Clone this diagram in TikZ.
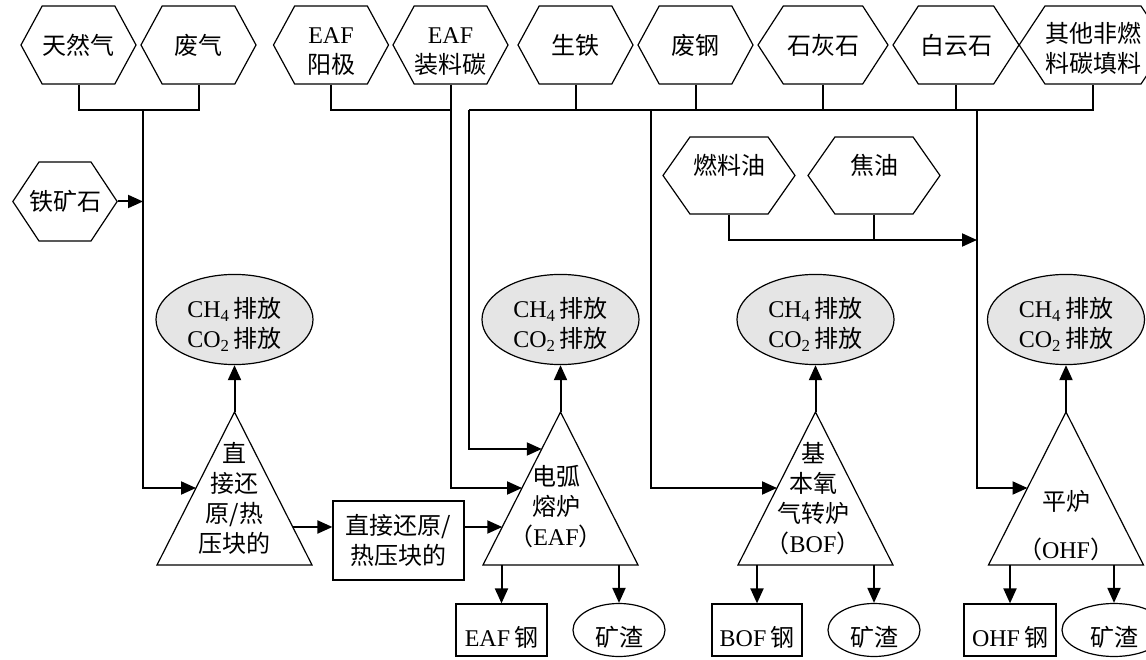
\documentclass[tikz,border=0pt]{standalone}
\usepackage{fontspec}
\setmainfont{Liberation Serif}
\newfontfamily\cjk{Noto Sans CJK SC}
\usetikzlibrary{shapes.symbols,shapes.geometric,arrows.meta,calc}
\newcommand\zh[1]{{\cjk #1}}
\newcommand\up[1]{\rule{0pt}{#1}}
\newcommand\dn[1]{\rule[-#1]{0pt}{1pt}}
\tikzset{
  every node/.style={font=\fontsize{24}{30}\selectfont},
  hexa/.style={signal, signal to=west and east, signal pointer angle=#1, draw, line width=1.2pt,
    minimum height=78pt, inner sep=0pt, align=center},
  conn/.style={line width=2pt},
  arr/.style={conn, -{Triangle[length=15pt,width=13pt]}},
  emis/.style={ellipse, draw, line width=1.2pt, fill=gray!20, minimum width=157pt, minimum height=77pt,
    inner sep=0pt, align=center},
  tri/.style={draw, line width=1.2pt},
  box/.style={rectangle, draw, line width=1.2pt, align=center, inner sep=0pt},
  slag/.style={ellipse, draw, line width=1.2pt, minimum width=92pt, minimum height=53pt, inner sep=0pt},
  lbl/.style={align=center, inner sep=0pt}
}
\begin{document}
\begin{tikzpicture}[x=1pt,y=-1pt]
\useasboundingbox (0,0) rectangle (1146,660);
\clip (0,0) rectangle (1146,660);
% ---------- input hexagons ----------
\node[hexa=123,minimum width=115pt] (gas)    at (78.5,45)  {\zh{天然气}};
\node[hexa=123,minimum width=115pt] (waste)  at (198.5,45) {\zh{废气}};
\node[hexa=123,minimum width=115pt] (anode)  at (331,45)   {\up{29pt}EAF\\\zh{阳极}};
\node[hexa=123,minimum width=115pt] (charge) at (450.5,45) {\up{29pt}EAF\\\zh{装料碳}};
\node[hexa=123,minimum width=115pt] (pig)    at (575.5,45) {\zh{生铁}};
\node[hexa=123,minimum width=115pt] (scrap)  at (695.5,45) {\zh{废钢}};
\node[hexa=114,minimum width=130pt] (lime)   at (823,45)   {\zh{石灰石}};
\node[hexa=114,minimum width=126pt] (dolo)   at (956,45)   {\zh{白云石}};
\node[hexa=113,minimum width=140pt] (other)  at (1093,45)  {\up{26pt}\zh{其他非燃}\\\zh{料碳填料}};
\node[hexa=110,minimum width=132pt,minimum height=77pt] (fuel) at (729,175.5) {\zh{燃料油}\dn{22pt}};
\node[hexa=110,minimum width=132pt,minimum height=77pt] (tar)  at (874,175.5) {\zh{焦油}\dn{22pt}};
\node[hexa=113,minimum width=104pt,minimum height=79pt,inner xsep=-10pt] (ore) at (65,201.5) {\zh{铁矿石}};
% ---------- triangles ----------
\foreach \n/\a in {dri/234.5, eaf/560.5, bof/815.5, ohf/1066}{
  \coordinate (\n-top) at (\a,412);
  \coordinate (\n-l) at (\a-77.5,565);
  \coordinate (\n-r) at (\a+77.5,565);
  \draw[tri] (\n-top) -- (\n-l) -- (\n-r) -- cycle;
}
\node[lbl] (dri) at (234.5,498) {\zh{直}\\\zh{接还}\\\zh{原/热}\\\zh{压块的}};
\node[lbl] (eaf) at (556,507) {\zh{电弧}\\\zh{熔炉}\\\zh{（}EAF\zh{）}};
\node[lbl] (bof) at (813,499) {\zh{基}\\\zh{本氧}\\\zh{气转炉}\\\zh{（}BOF\zh{）}};
\node[lbl] (ohf) at (1066,526) {\zh{平炉}\\[18pt]\zh{（}OHF\zh{）}};
% edge points
\coordinate (dri-in)  at ($(dri-l)!0.5033!(dri-top)$);
\coordinate (dri-out) at ($(dri-r)!0.2484!(dri-top)$);
\coordinate (eaf-in1) at ($(eaf-l)!0.7582!(eaf-top)$);
\coordinate (eaf-in2) at ($(eaf-l)!0.5033!(eaf-top)$);
\coordinate (eaf-in3) at ($(eaf-l)!0.2484!(eaf-top)$);
\coordinate (bof-in)  at ($(bof-l)!0.5033!(bof-top)$);
\coordinate (ohf-in)  at ($(ohf-l)!0.5033!(ohf-top)$);
% ---------- emissions ----------
\foreach \n/\a in {dri/234.5, eaf/560.5, bof/815.5, ohf/1066}{
  \node[emis] (\n-e) at (\a,319.5) {\up{30pt}CH\textsubscript{4}\,\zh{排放}\\CO\textsubscript{2}\,\zh{排放}};
}
% ---------- products ----------
\node[box,minimum width=131pt,minimum height=79pt] (dri-p) at (398.5,540.5) {\zh{直接还原/}\\\zh{热压块的}};
\node[box,minimum width=91pt,minimum height=52pt] (eaf-s) at (501.5,630) {\up{34pt}EAF\,\zh{钢}};
\node[slag] (eaf-g) at (619,630) {\up{34pt}\zh{矿渣}};
\node[box,minimum width=90pt,minimum height=52pt] (bof-s) at (757,630) {\up{34pt}BOF\,\zh{钢}};
\node[slag] (bof-g) at (874,630) {\up{34pt}\zh{矿渣}};
\node[box,minimum width=92pt,minimum height=52pt] (ohf-s) at (1010,630) {\up{34pt}OHF\,\zh{钢}};
\node[slag,minimum width=104pt] (ohf-g) at (1114,630) {\up{34pt}\zh{矿渣}};
% ---------- connectors ----------
\coordinate (j1) at (143,110);
\draw[conn] (gas.south) |- (j1) -| (waste.south);
\draw[arr] (j1) |- (dri-in);
\draw[arr] (ore.east) -- (ore.east -| j1);
\coordinate (j2) at (charge.south |- j1);
\draw[conn] (anode.south) |- (j2);
\draw[arr] (charge.south) |- (eaf-in2);
\coordinate (j3) at (469,110);
\coordinate (j5) at (651,110);
\coordinate (j6) at (977,110);
\coordinate (j7) at (977,240);
\draw[conn] (j3) -| (other.south);
\foreach \h in {pig,scrap,lime,dolo}{\draw[conn] (\h.south) -- (\h.south |- j3);}
\draw[arr] (j3) |- (eaf-in1);
\draw[arr] (j5) |- (bof-in);
\draw[arr] (j6) |- (ohf-in);
\draw[conn] (tar.south) -- (tar.south |- j7);
\draw[arr] (fuel.south) |- (j7);
% furnace outputs
\foreach \n in {dri,eaf,bof,ohf}{\draw[arr] (\n-top) -- (\n-e.south);}
\draw[arr] (dri-out) -- (dri-out -| dri-p.west);
\draw[arr] (dri-p.east |- dri-out) -- (eaf-in3);
\foreach \n in {eaf,bof,ohf}{
  \draw[arr] (\n-s.north |- \n-l) -- (\n-s.north);
  \draw[arr] (\n-g.north |- \n-l) -- (\n-g.north);
}
\end{tikzpicture}
\end{document}
